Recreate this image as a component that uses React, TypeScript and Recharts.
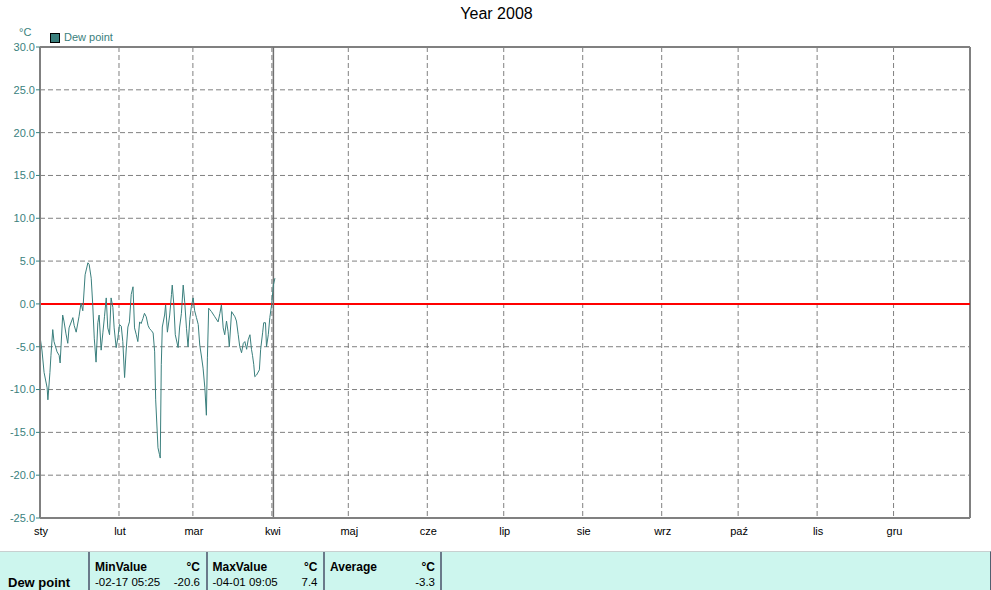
import { LineChart, Line, XAxis, YAxis, CartesianGrid, ReferenceLine } from "recharts";

// day of year (0 = 1 Jan 2008) and dew point in °C
const days = [
  0, 0.8, 1.6, 2.8, 3.1, 3.9, 4.3, 5.0, 5.5, 6.7, 7.5, 7.9, 8.9, 9.4, 10.2, 10.9,
  11.4, 12.9, 13.4, 14.2, 15.3, 16.1, 16.8, 17.7, 18.8, 19.3, 20.1, 20.7, 21.3,
  22.0, 22.7, 23.2, 24.0, 24.7, 25.3, 26.0, 26.6, 27.3, 27.9, 28.6, 29.1, 29.9,
  30.6, 31.2, 31.9, 32.5, 33.2, 33.8, 34.5, 35.1, 35.8, 36.5, 37.1, 37.8, 38.4,
  39.1, 39.7, 40.4, 41.0, 41.7, 42.4, 43.0, 43.7, 44.4, 45.0, 45.4, 46.3, 46.9,
  47.2, 47.6, 48.0, 48.9, 49.3, 50.0, 50.9, 51.6, 51.9, 52.5, 53.1, 54.2, 54.8,
  55.5, 56.2, 56.8, 57.5, 58.1, 58.8, 59.4, 60.1, 60.7, 61.4, 62.1, 62.7, 63.4,
  64.0, 64.7, 65.3, 65.7, 66.2, 67.3, 68.6, 69.9, 70.6, 71.2, 71.9, 72.5, 73.2,
  73.8, 74.3, 75.2, 76.5, 77.1, 77.8, 78.4, 79.1, 79.8, 80.4, 81.1, 81.7, 82.4,
  83.0, 83.4, 83.9, 84.3, 85.0, 86.1, 86.6, 87.4, 87.8, 88.5, 88.9, 89.6, 90.2,
  90.9, 91.6, 92.2,
];
const dewPoint = [
  -3.8, -5.5, -8, -9.8, -11.2, -8, -6, -3, -4.4, -5.6, -6, -6.9, -1.3, -2, -3.5, -4.6,
  -2.8, -1.6, -2.5, -3.3, -1.5, 0.1, -0.8, 3.4, 4.8, 4.6, 3, -0.1, -4,
  -6.8, -2.2, -1.3, -5.4, -3.3, -1.5, 0.7, -2.8, -3.6, 0.7, -0.4, -2.8, -5.1,
  -3.9, -2.4, -2.6, -4.4, -8.6, -5.5, -2.7, -2.1, 1.1, 2.0, -2.8, -3.6, -4.4,
  -2.1, -2.3, -1.7, -1.1, -1.5, -2.5, -2.9, -3.1, -3.4, -5.6, -11.2, -16.8, -17.6,
  -18, -7.1, -2.7, -1.3, -0.1, -3.3, -1.3, 1.1, 2.2, 0, -3.6, -5.1, -2.7,
  -1.1, 2.2, 0.2, -2.9, -5, -1.8, -0.3, 0.7, -0.8, -1.6, -2.4, -4.8, -6.2,
  -7.5, -9.8, -13, -6.3, -0.5, -0.9, -1.5, -2.1, -1.1, -0.1, -2.8, -3.6, -2.0,
  -3.2, -5, -0.9, -1.5, -2.0, -3.6, -5, -5.7, -4.6, -4.4, -5.3, -4.2, -3.6,
  -5.3, -6, -7.1, -8.5, -8.3, -7.7, -5.3, -3.3, -2.2, -2.2, -5, -3.6, -1.6,
  -0.1, 2.2, 3.0,
];

const monthStarts = [0, 31, 60, 91, 121, 152, 182, 213, 244, 274, 305, 335];
const monthLabels = ["sty", "lut", "mar", "kwi", "maj", "cze", "lip", "sie", "wrz", "paź", "lis", "gru"];
const yTicks = [30, 25, 20, 15, 10, 5, 0, -5, -10, -15, -20, -25];

const statHeaders = ["MinValue", "MaxValue", "Average"];
const statTimes = ["-02-17 05:25", "-04-01 09:05", ""];
const statValues = ["-20.6", "7.4", "-3.3"];

const data = days.map((d, i) => ({ day: d, value: dewPoint[i] }));

const TEAL = "#3a7f7d";
const GRAY = "#808080";
const FONT = "'Liberation Sans', Arial, sans-serif";

const App = () => {
  return (
    <div
      style={{
        position: "absolute",
        left: 0,
        top: 0,
        width: 991,
        height: 590,
        background: "#fff",
        fontFamily: FONT,
        overflow: "hidden",
      }}
    >
      <div
        style={{
          position: "absolute",
          top: 5,
          left: 0,
          width: 993,
          textAlign: "center",
          fontSize: 16,
          color: "#000",
        }}
      >
        Year 2008
      </div>
      <div style={{ position: "absolute", left: 19, top: 26, fontSize: 11, color: TEAL }}>°C</div>
      <div
        style={{
          position: "absolute",
          left: 50,
          top: 33,
          width: 8,
          height: 8,
          background: TEAL,
          border: "1px solid #000",
        }}
      />
      <div style={{ position: "absolute", left: 64, top: 31, fontSize: 11, color: TEAL }}>Dew point</div>

      <div style={{ position: "absolute", left: 0, top: 0 }}>
        <LineChart
          width={991}
          height={550}
          data={data}
          margin={{ top: 47, right: 21, left: 0, bottom: 0 }}
        >
          <CartesianGrid stroke={GRAY} strokeDasharray="5 3" />
          <XAxis
            dataKey="day"
            type="number"
            domain={[0, 365]}
            ticks={monthStarts}
            tickFormatter={(v: number) => monthLabels[monthStarts.indexOf(v)]}
            height={32}
            tickLine={false}
            tickSize={0}
            tickMargin={9}
            axisLine={{ stroke: GRAY, strokeWidth: 2 }}
            tick={{ fill: "#000", fontSize: 11, fontFamily: FONT, dx: 1 }}
            interval={0}
          />
          <YAxis
            type="number"
            domain={[-25, 30]}
            ticks={yTicks}
            width={40}
            tickFormatter={(v: number) => v.toFixed(1)}
            tickSize={4}
            tickMargin={1}
            tickLine={{ stroke: TEAL }}
            axisLine={{ stroke: GRAY, strokeWidth: 2 }}
            tick={{ fill: TEAL, fontSize: 11, fontFamily: FONT }}
            interval={0}
          />
          <ReferenceLine y={30} stroke={GRAY} strokeWidth={2} />
          <ReferenceLine x={365} stroke={GRAY} strokeWidth={2} />
          <ReferenceLine y={0} stroke="#ff0000" strokeWidth={2} />
          <ReferenceLine x={91.6} stroke="#707070" strokeWidth={1.5} />
          <Line
            type="linear"
            dataKey="value"
            stroke={TEAL}
            strokeWidth={1}
            dot={false}
            isAnimationActive={false}
          />
        </LineChart>
      </div>

      <div
        style={{
          position: "absolute",
          left: 0,
          top: 551,
          width: 990,
          height: 39,
          background: "#cdf6ee",
          borderTop: "1px solid #c8d0d0",
          borderRight: "1px solid #506070",
          fontSize: 11,
          color: "#000",
        }}
      >
        <div style={{ position: "absolute", left: 8, top: 23, fontWeight: "bold", fontSize: 13 }}>
          Dew point
        </div>
        {statHeaders.map((h, i) => (
          <div
            key={h}
            style={{
              position: "absolute",
              left: 88 + i * 117.5,
              top: 0,
              width: 116,
              height: 39,
              borderLeft: "2px solid #6a7a8a",
            }}
          >
            <div style={{ position: "absolute", left: 5, top: 8, fontWeight: "bold", fontSize: 12 }}>{h}</div>
            <div style={{ position: "absolute", right: 6, top: 8, fontWeight: "bold", fontSize: 12 }}>°C</div>
            <div style={{ position: "absolute", left: 5, top: 24, whiteSpace: "pre", fontSize: 11.5 }}>
              {statTimes[i]}
            </div>
            <div style={{ position: "absolute", right: 6, top: 24, fontSize: 11.5 }}>{statValues[i]}</div>
          </div>
        ))}
        <div
          style={{
            position: "absolute",
            left: 440,
            top: 0,
            height: 39,
            borderLeft: "2px solid #6a7a8a",
          }}
        />
      </div>
    </div>
  );
};

export default App;
